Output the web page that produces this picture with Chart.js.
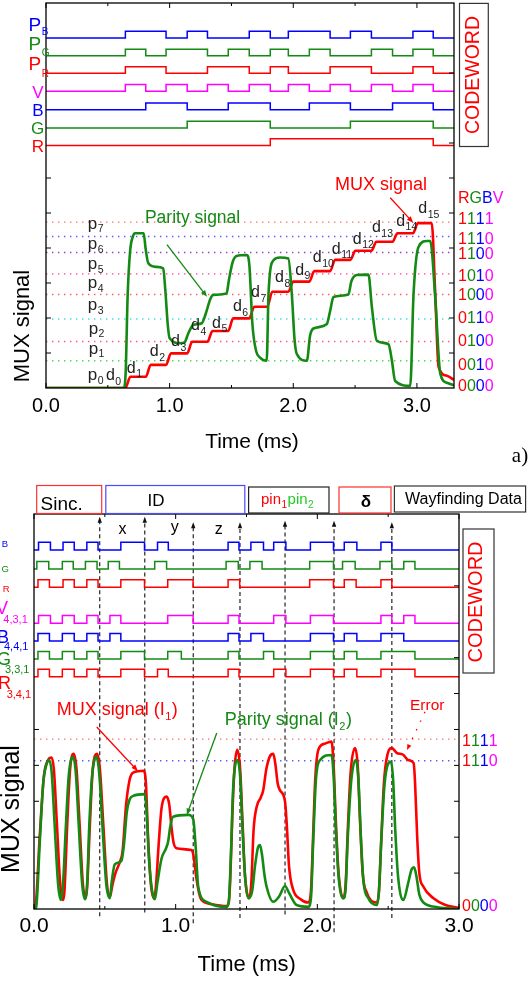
<!DOCTYPE html>
<html>
<head>
<meta charset="utf-8">
<script src="https://cdn.jsdelivr.net/npm/chart.js@4"></script>
<style>
  body { margin: 0; background: #fff; width: 531px; height: 989px; position: relative; overflow: hidden; }
  canvas { position: absolute; left: 0; }
  #c1 { top: 0; }
  #c2 { top: 470px; }
</style>
</head>
<body>
<canvas id="c1" width="531" height="470"></canvas>
<canvas id="c2" width="531" height="519"></canvas>
<script>
const SANS = '"Liberation Sans", Arial, sans-serif';

// ---------- panel a) ----------
// codeword slots d0..d15 (start times, ms)
const topSlotStart = [0, 0.642, 0.807, 0.971, 1.142, 1.306, 1.474, 1.644, 1.814, 1.960, 2.130, 2.298, 2.462, 2.632, 2.803, 2.968];
const topSlotEnd = 3.132;
const topBitsPB = [0,1,1,0,1,0,0,1,0,1,1,0,1,0,0,1];
const topBitsPG = [0,1,0,1,1,0,1,0,1,0,1,0,0,1,0,1];
const topBitsPR = [0,1,1,0,0,1,1,0,1,0,0,1,1,0,0,1];
const topBitsV  = [0,1,0,1,0,1,0,1,0,1,0,1,0,1,0,1];
const topBitsB  = [0,0,1,1,0,0,1,1,0,0,1,1,0,0,1,1];
const topBitsG  = [0,0,0,0,1,1,1,1,0,0,0,0,1,1,1,1];
const topBitsR  = [0,0,0,0,0,0,0,0,1,1,1,1,1,1,1,1];

// MUX signal (red) and parity signal (green), time in ms / level in axis units
const topMuxT = [0,0.642,0.682,0.807,0.847,0.971,1.011,1.142,1.182,1.306,1.346,1.474,1.514,1.644,1.684,1.79,1.83,1.96,2.0,2.13,2.17,2.298,2.338,2.462,2.502,2.632,2.672,2.803,2.843,2.968,3.008,3.12,3.148,3.175,3.243,3.3];
const topMuxV = [0,0,0.32,0.32,0.66,0.66,0.99,0.99,1.32,1.32,1.63,1.63,1.99,1.99,2.32,2.32,2.75,2.75,3.04,3.04,3.34,3.34,3.66,3.66,3.92,3.92,4.18,4.18,4.42,4.42,4.71,4.71,2.71,0.61,0.35,0.23];
const topParT = [0,0.63,0.645,0.66,0.68,0.705,0.72,0.79,0.805,0.827,0.89,0.948,0.965,0.985,1.0,1.083,1.12,1.15,1.19,1.26,1.29,1.33,1.353,1.46,1.48,1.51,1.542,1.623,1.645,1.67,1.7,1.731,1.785,1.8,1.84,1.893,1.96,1.988,2.01,2.028,2.11,2.136,2.163,2.27,2.298,2.325,2.446,2.47,2.514,2.608,2.636,2.676,2.77,2.797,2.824,2.946,2.973,3.013,3.081,3.108,3.148,3.189,3.243,3.3];
const topParV = [0,0,0.5,2.6,3.9,4.35,4.42,4.42,4.0,3.57,3.46,3.42,2.8,1.8,1.42,1.28,1.3,1.55,1.8,1.85,2.1,2.55,2.66,2.7,3.1,3.6,3.77,3.8,3.5,1.8,1.05,0.87,0.78,2.71,3.65,3.73,3.7,2.7,1.4,0.98,0.78,1.5,1.7,1.82,2.2,2.6,2.67,3.05,3.23,3.24,2.3,1.35,1.25,0.8,0.2,0.06,2.7,4.03,4.2,4.2,2.6,0.41,0.15,0.08];

const topRefLevels = [4.74, 4.33, 3.87, 3.26, 2.67, 1.97, 1.33, 0.78];
const topRefColors = ['#ff6a6a', '#5a5aff', '#9a3acc', '#ff3ca0', '#ff5a5a', '#3ce0e0', '#ff5a7a', '#44dd44'];
const topCodeLabels = ['1111','1110','1100','1010','1000','0110','0100','0010','0000'];
const topCodeBase = [224, 244, 259, 281, 300, 323, 346, 370, 391];

// ---------- panel b) ----------
// codeword rows as toggle times (ms), each row starts low
const botTogPB = [0.032,0.116,0.205,0.284,0.373,0.452,0.613,0.780,0.872,0.948,1.370,1.447,1.531,1.620,1.692,1.778,1.951,2.114,2.190,2.279,2.449,2.526];
const botTogPG = [0.020,0.104,0.200,0.277,0.363,0.445,0.524,0.603,0.852,0.936,1.356,1.442,1.524,1.610,1.946,2.114,2.178,2.267,2.442,2.526,2.610,2.689];
const botTogPR = [0.028,0.109,0.205,0.284,0.373,0.452,0.613,0.780,0.944,1.123,1.370,1.452,1.946,2.114,2.190,2.274,2.449,2.526];
const botTogV  = [0.032,0.116,0.200,0.284,0.373,0.452,0.536,0.613,0.944,1.123,1.370,1.447,1.692,1.778,1.951,2.114,2.449,2.526,2.610,2.689];
const botTogB  = [0.028,0.109,0.200,0.284,0.373,0.452,0.536,0.613,1.370,1.447,1.531,1.620,1.951,2.114,2.190,2.279,2.449,2.610];
const botTogG  = [0.028,0.109,0.200,0.284,0.373,0.452,0.613,0.780,0.944,1.040,1.370,1.447,1.620,1.692,1.951,2.114,2.190,2.279,2.449,2.689];
const botTogR  = [0.028,0.109,0.200,0.284,0.373,0.452,0.613,0.780,0.872,0.948,1.370,1.447,1.692,1.778,1.951,2.114,2.190,2.279,2.449,2.689];

const botMuxT = [0,0.01,0.04,0.07,0.1,0.123,0.14,0.16,0.185,0.205,0.215,0.235,0.255,0.28,0.3,0.32,0.345,0.365,0.375,0.395,0.415,0.445,0.465,0.49,0.515,0.535,0.555,0.575,0.605,0.625,0.65,0.675,0.7,0.775,0.79,0.805,0.825,0.846,0.86,0.88,0.9,0.92,0.936,0.955,0.97,0.985,1.006,1.11,1.125,1.145,1.165,1.183,1.25,1.36,1.375,1.385,1.4,1.415,1.435,1.455,1.47,1.49,1.52,1.535,1.55,1.572,1.6,1.618,1.64,1.665,1.689,1.705,1.72,1.736,1.772,1.785,1.8,1.83,1.88,1.936,1.955,1.97,1.985,2.007,2.05,2.1,2.115,2.13,2.15,2.184,2.2,2.215,2.235,2.266,2.285,2.3,2.32,2.35,2.42,2.435,2.45,2.47,2.495,2.526,2.56,2.608,2.64,2.68,2.69,2.705,2.72,2.749,2.82,2.9,3.0];
const botMuxV = [0,0.05,2.0,3.7,4.15,4.22,3.9,2.5,0.7,0.25,0.5,2.4,3.9,4.32,3.9,2.5,0.7,0.3,0.6,2.4,3.9,4.32,3.9,2.3,0.7,0.33,0.7,1.0,1.3,1.6,2.9,3.6,3.8,3.85,3.5,2.0,0.7,0.3,0.6,1.8,2.8,3.1,3.13,2.9,2.3,1.85,1.69,1.64,1.5,0.9,0.45,0.25,0.14,0.08,0.2,0.8,2.6,3.9,4.43,3.9,2.6,0.9,0.3,0.8,2.2,2.85,3.1,3.31,3.9,4.25,4.32,4.0,3.5,3.31,2.99,2.3,1.2,0.53,0.28,0.18,0.5,2.0,3.6,4.43,4.6,4.66,4.0,2.5,1.0,0.3,0.7,2.2,3.8,4.48,4.0,2.6,1.0,0.45,0.18,0.5,1.8,3.5,4.3,4.48,4.35,4.29,4.15,4.06,3.5,2.0,1.0,0.62,0.3,0.12,0.03];
const botParT = [0,0.015,0.04,0.065,0.09,0.106,0.125,0.145,0.17,0.19,0.205,0.225,0.245,0.276,0.295,0.315,0.34,0.36,0.375,0.39,0.41,0.44,0.46,0.485,0.51,0.535,0.55,0.57,0.617,0.635,0.655,0.675,0.7,0.782,0.795,0.81,0.83,0.853,0.87,0.9,0.933,0.947,0.962,0.982,1.088,1.124,1.14,1.16,1.218,1.36,1.375,1.39,1.405,1.435,1.455,1.47,1.49,1.515,1.54,1.56,1.58,1.595,1.61,1.625,1.642,1.689,1.73,1.772,1.8,1.854,1.936,1.955,1.97,1.99,2.02,2.1,2.115,2.13,2.15,2.184,2.2,2.215,2.24,2.273,2.29,2.305,2.325,2.36,2.42,2.435,2.45,2.475,2.52,2.535,2.55,2.57,2.608,2.64,2.665,2.683,2.7,2.72,2.749,2.85,3.0];
const botParV = [0,0.05,1.8,3.5,4.05,4.15,3.8,2.4,0.7,0.25,0.7,2.3,3.7,4.24,3.8,2.4,0.7,0.27,0.7,2.3,3.7,4.24,3.8,2.2,0.7,0.3,0.8,1.24,1.34,1.8,2.7,3.05,3.15,3.2,2.7,1.5,0.6,0.27,0.7,1.4,1.7,1.88,2.3,2.57,2.62,2.5,1.8,0.6,0.2,0.06,0.2,1.5,3.3,4.15,3.7,2.4,0.9,0.3,0.5,1.2,1.7,1.78,1.5,1.0,0.62,0.2,0.35,0.64,0.45,0.11,0.06,0.3,1.8,3.6,4.15,4.29,3.7,2.3,0.9,0.3,0.6,2.0,3.6,4.15,3.6,2.2,0.8,0.3,0.11,0.5,1.8,3.5,4.1,3.6,2.2,0.9,0.25,0.7,1.1,1.16,0.9,0.4,0.18,0.05,0];

const botRefLevels = [4.73, 4.13];
const botRefColors = ['#ff6a6a', '#5a5aff'];
const botMarkT = [0.464, 0.782, 1.124, 1.454, 1.772, 2.118, 2.526];
const botMarkTop = [10.92, 10.92, 10.77, 10.77, 10.81, 10.81, 10.77];
const botMarkLow = [-0.2, -0.1, -0.4, -0.25, -0.15, -0.65, -0.25];

const xTickVals = [0, 1, 2, 3];
const xTickLabels = ['0.0', '1.0', '2.0', '3.0'];
const xMinor = [0.5, 1.5, 2.5];

// ---------- helpers ----------
function stepFromBits(starts, end, bits, base, h, xmax) {
  const pts = starts.map((s, i) => ({ x: s, y: base + bits[i] * h }));
  pts.push({ x: end, y: base }, { x: xmax, y: base });
  return pts;
}
function stepFromToggles(tog, base, h, xmax) {
  const pts = [{ x: 0, y: base }];
  tog.forEach((t, i) => pts.push({ x: t, y: base + (i % 2 === 0 ? h : 0) }));
  pts.push({ x: xmax, y: pts[pts.length - 1].y });
  return pts;
}
const zip = (t, v) => t.map((x, i) => ({ x, y: v[i] }));

function trace(data, color, width, extra) {
  return Object.assign({ data, borderColor: color, borderWidth: width, pointRadius: 0, fill: false }, extra || {});
}
function refLine(level, color, xmax) {
  return trace([{ x: 0, y: level }, { x: xmax, y: level }], color, 1.4, { borderDash: [1.4, 4.6], order: 20 });
}

function txt(ctx, s, x, y, size, color, opts) {
  opts = opts || {};
  ctx.font = (opts.bold ? 'bold ' : '') + size + 'px ' + (opts.family || SANS);
  ctx.fillStyle = color;
  ctx.textAlign = opts.align || 'left';
  ctx.textBaseline = 'alphabetic';
  ctx.fillText(s, x, y);
  return ctx.measureText(s).width;
}
// main text followed by a subscript, returns x after the subscript
function sub(ctx, main, x, y, size, color, s, ssize, scolor, drop) {
  const w = txt(ctx, main, x, y, size, color);
  const w2 = txt(ctx, s, x + w + 0.5, y + drop, ssize, scolor);
  return x + w + 0.5 + w2;
}
function codeLabel(ctx, s, x, y, size) {
  const cols = ['#ff0000', '#138a13', '#0000ff', '#ff00ff'];
  let cx = x;
  for (let i = 0; i < s.length; i++) cx += txt(ctx, s[i], cx, y, size, cols[i]);
}
function arrow(ctx, x1, y1, x2, y2, color, width, head, dash) {
  const a = Math.atan2(y2 - y1, x2 - x1);
  ctx.save();
  ctx.strokeStyle = color; ctx.fillStyle = color; ctx.lineWidth = width;
  if (dash) ctx.setLineDash(dash);
  ctx.beginPath();
  ctx.moveTo(x1, y1);
  ctx.lineTo(x2 - Math.cos(a) * head * 0.7, y2 - Math.sin(a) * head * 0.7);
  ctx.stroke();
  ctx.setLineDash([]);
  ctx.beginPath();
  ctx.moveTo(x2, y2);
  ctx.lineTo(x2 - head * Math.cos(a - 0.38), y2 - head * Math.sin(a - 0.38));
  ctx.lineTo(x2 - head * Math.cos(a + 0.38), y2 - head * Math.sin(a + 0.38));
  ctx.closePath(); ctx.fill();
  ctx.restore();
}
function frameAndTicks(chart, yLeft, yRight) {
  const { ctx, chartArea: a, scales: { x, y } } = chart;
  ctx.save();
  ctx.strokeStyle = '#000';
  ctx.lineWidth = 1.3;
  ctx.strokeRect(a.left, a.top, a.right - a.left, a.bottom - a.top);
  ctx.lineWidth = 1;
  ctx.beginPath();
  xTickVals.forEach(v => {
    const p = x.getPixelForValue(v);
    ctx.moveTo(p, a.bottom); ctx.lineTo(p, a.bottom - 5);
    ctx.moveTo(p, a.top); ctx.lineTo(p, a.top + 5);
  });
  xMinor.forEach(v => {
    const p = x.getPixelForValue(v);
    ctx.moveTo(p, a.bottom); ctx.lineTo(p, a.bottom - 3);
    ctx.moveTo(p, a.top); ctx.lineTo(p, a.top + 3);
  });
  yLeft.forEach(v => { const p = y.getPixelForValue(v); ctx.moveTo(a.left, p); ctx.lineTo(a.left + 5, p); });
  yRight.forEach(v => { const p = y.getPixelForValue(v); ctx.moveTo(a.right, p); ctx.lineTo(a.right - 5, p); });
  ctx.stroke();
  ctx.restore();
}
function vText(ctx, s, cx, cy, size, color) {
  ctx.save();
  ctx.translate(cx, cy);
  ctx.rotate(-Math.PI / 2);
  ctx.font = size + 'px ' + SANS;
  ctx.fillStyle = color;
  ctx.textAlign = 'center';
  ctx.textBaseline = 'middle';
  ctx.fillText(s, 0, 0);
  ctx.restore();
}
function codewordBox(ctx, l, t, r, b, size, cx, cy) {
  ctx.save();
  ctx.strokeStyle = '#333'; ctx.lineWidth = 1.2;
  ctx.strokeRect(l, t, r - l, b - t);
  ctx.restore();
  vText(ctx, 'CODEWORD', cx, cy, size, '#ff0000');
}

// ---------- panel a) chart ----------
const C_R = '#ff0000', C_G = '#138a13', C_B = '#0000ff', C_M = '#ff00ff';
const topXMax = 3.3;
const topDatasets = [
  trace(zip(topMuxT, topMuxV), C_R, 2.6, { cubicInterpolationMode: 'monotone', order: 2 }),
  trace(zip(topParT, topParV), C_G, 2.6, { cubicInterpolationMode: 'monotone', order: 1 }),
  trace(stepFromBits(topSlotStart, topSlotEnd, topBitsPB, 10.0, 0.19, topXMax), C_B, 1.5, { stepped: true }),
  trace(stepFromBits(topSlotStart, topSlotEnd, topBitsPG, 9.49, 0.19, topXMax), C_G, 1.5, { stepped: true }),
  trace(stepFromBits(topSlotStart, topSlotEnd, topBitsPR, 8.99, 0.19, topXMax), C_R, 1.5, { stepped: true }),
  trace(stepFromBits(topSlotStart, topSlotEnd, topBitsV, 8.48, 0.19, topXMax), C_M, 1.5, { stepped: true }),
  trace(stepFromBits(topSlotStart, topSlotEnd, topBitsB, 7.95, 0.19, topXMax), C_B, 1.5, { stepped: true }),
  trace(stepFromBits(topSlotStart, topSlotEnd, topBitsG, 7.43, 0.19, topXMax), C_G, 1.5, { stepped: true }),
  trace(stepFromBits(topSlotStart, topSlotEnd, topBitsR, 6.93, 0.19, topXMax), C_R, 1.5, { stepped: true })
].concat(topRefLevels.map((l, i) => refLine(l, topRefColors[i], topXMax)));

const topDLabels = [[0.485,0.217],[0.654,0.429],[0.84,0.903],[1.011,1.189],[1.173,1.646],[1.343,1.723],[1.512,2.189],[1.658,2.6],[1.853,3.017],[2.015,3.237],[2.158,3.589],[2.312,3.837],[2.482,4.123],[2.636,4.446],[2.832,4.637],[3.011,5.0]];
const topPLabels = [[0.338,0.217],[0.345,0.98],[0.345,1.551],[0.338,2.217],[0.338,2.857],[0.338,3.4],[0.338,3.971],[0.338,4.551]];

const decorTop = {
  id: 'decorTop',
  afterDraw(chart) {
    const { ctx, scales: { x, y } } = chart;
    const X = v => x.getPixelForValue(v), Y = v => y.getPixelForValue(v);
    frameAndTicks(chart, [1, 2, 3, 4, 5, 6], [1, 2, 3, 4, 5, 6, 7, 9]);
    // row labels
    sub(ctx, 'P', 28.5, 30.5, 19, C_B, 'B', 10, C_B, 4.5);
    sub(ctx, 'P', 28.5, 50.2, 19, C_G, 'G', 10, C_G, 5.5);
    sub(ctx, 'P', 28.5, 69.5, 19, C_R, 'R', 10, C_R, 7);
    txt(ctx, 'V', 38, 98, 17, C_M, { align: 'center' });
    txt(ctx, 'B', 38, 115.5, 17, C_B, { align: 'center' });
    txt(ctx, 'G', 37.5, 134, 17, C_G, { align: 'center' });
    txt(ctx, 'R', 38, 151.5, 17, C_R, { align: 'center' });
    codewordBox(ctx, 459.5, 3.4, 488.3, 146.5, 19.5, 473.5, 75);
    // d / p labels
    topDLabels.forEach((p, i) => sub(ctx, 'd', X(p[0]), Y(p[1]), 16, '#222', String(i), 10.5, '#222', 4.5));
    topPLabels.forEach((p, i) => sub(ctx, 'p', X(p[0]), Y(p[1]), 17, '#222', String(i), 10.5, '#222', 3.5));
    // annotations
    txt(ctx, 'MUX signal', X(2.338), Y(5.666), 18, C_R);
    arrow(ctx, X(2.784), Y(5.437), X(2.97), Y(4.723), C_R, 1.3, 7);
    txt(ctx, 'Parity signal', X(0.8), Y(4.72), 17.5, C_G);
    arrow(ctx, X(0.978), Y(4.094), X(1.302), Y(2.609), C_G, 1.3, 7);
    // RGBV legend on the right
    let cx = 458;
    ['R', 'G', 'B', 'V'].forEach((c, i) => { cx += txt(ctx, c, cx, 203, 16, [C_R, C_G, C_B, C_M][i]); });
    topCodeLabels.forEach((s, i) => codeLabel(ctx, s, 458, topCodeBase[i], 16));
    // y title, x title, panel letter
    vText(ctx, 'MUX signal', 22.5, 326, 22, '#000');
    txt(ctx, 'Time (ms)', 252, 448, 21, '#000', { align: 'center' });
    txt(ctx, 'a)', 520, 462, 21, '#000', { align: 'center', family: '"Liberation Serif", "Times New Roman", serif' });
  }
};

function xScale(max, size, pad, h) {
  return {
    type: 'linear', min: 0, max: max,
    grid: { display: false, drawTicks: false },
    border: { display: false },
    afterFit: s => { s.height = h; },
    afterBuildTicks: s => { s.ticks = xTickVals.map(v => ({ value: v })); },
    ticks: { autoSkip: false, maxRotation: 0, padding: pad, color: '#000', font: { family: SANS, size: size }, callback: (v, i) => xTickLabels[i] }
  };
}
function baseOptions(pad, xs) {
  return {
    responsive: false, animation: false, events: [],
    layout: { padding: pad },
    plugins: { legend: { display: false }, tooltip: { enabled: false } },
    elements: { point: { radius: 0 }, line: { tension: 0 } },
    scales: { x: xs, y: { type: 'linear', min: 0, max: 11, display: false } }
  };
}

new Chart(document.getElementById('c1'), {
  type: 'line',
  data: { datasets: topDatasets },
  options: baseOptions({ left: 46, top: 3, right: 77, bottom: 0 }, xScale(topXMax, 20, 6, 82)),
  plugins: [decorTop]
});

// ---------- panel b) chart ----------
const botXMax = 3.0;
const botDatasets = [
  trace(zip(botMuxT, botMuxV), C_R, 2.6, { cubicInterpolationMode: 'monotone', order: 2 }),
  trace(zip(botParT, botParV), C_G, 2.6, { cubicInterpolationMode: 'monotone', order: 1 }),
  trace(stepFromToggles(botTogPB, 10.0, 0.21, botXMax), C_B, 1.5, { stepped: true }),
  trace(stepFromToggles(botTogPG, 9.47, 0.21, botXMax), C_G, 1.5, { stepped: true }),
  trace(stepFromToggles(botTogPR, 8.96, 0.21, botXMax), C_R, 1.5, { stepped: true }),
  trace(stepFromToggles(botTogV, 7.96, 0.21, botXMax), C_M, 1.5, { stepped: true }),
  trace(stepFromToggles(botTogB, 7.46, 0.21, botXMax), C_B, 1.5, { stepped: true }),
  trace(stepFromToggles(botTogG, 6.96, 0.21, botXMax), C_G, 1.5, { stepped: true }),
  trace(stepFromToggles(botTogR, 6.47, 0.21, botXMax), C_R, 1.5, { stepped: true })
].concat(botRefLevels.map((l, i) => refLine(l, botRefColors[i], botXMax)))
 .concat(botMarkT.map((t, i) => trace([{ x: t, y: botMarkLow[i] }, { x: t, y: botMarkTop[i] - 0.12 }], '#111', 1.1, { borderDash: [4, 3], clip: false, order: 15 })));

const decorBot = {
  id: 'decorBot',
  afterDraw(chart) {
    const { ctx, scales: { x, y } } = chart;
    const X = v => x.getPixelForValue(v), Y = v => y.getPixelForValue(v);
    const o = -470; // page y -> canvas y
    frameAndTicks(chart, [1, 2, 3, 4, 5], [1, 2, 3, 4, 5, 6, 7, 9]);
    // arrow heads on marker lines
    botMarkT.forEach((t, i) => {
      const px = X(t), py = Y(botMarkTop[i]);
      ctx.fillStyle = '#111';
      ctx.beginPath(); ctx.moveTo(px, py); ctx.lineTo(px - 2.2, py + 6); ctx.lineTo(px + 2.2, py + 6); ctx.closePath(); ctx.fill();
    });
    // header boxes
    const box = (l, t, r, b, c) => { ctx.save(); ctx.strokeStyle = c; ctx.lineWidth = 1.2; ctx.strokeRect(l, t + o, r - l, b - t); ctx.restore(); };
    box(36.7, 485.5, 101.7, 513.5, '#ff3030');
    box(105.8, 485.5, 244.8, 513.5, '#4a4aff');
    box(248.6, 487, 329, 513, '#222');
    box(339, 487, 391, 513, '#ff3030');
    box(394.4, 486, 525.6, 512, '#333');
    txt(ctx, 'Sinc.', 40.5, 510 + o, 19, '#000');
    txt(ctx, 'ID', 156, 505.6 + o, 17, '#000', { align: 'center' });
    const px = sub(ctx, 'pin', 261, 504 + o, 15, '#ff0000', '1', 10, '#ff0000', 3.5);
    sub(ctx, 'pin', px + 0.5, 504 + o, 15, '#22cc22', '2', 10, '#22cc22', 3.5);
    txt(ctx, 'δ', 366, 507 + o, 17, '#000', { align: 'center', bold: true });
    txt(ctx, 'Wayfinding Data', 463.5, 503.5 + o, 16, '#000', { align: 'center' });
    txt(ctx, 'x', X(0.596), Y(10.45), 16, '#000');
    txt(ctx, 'y', X(0.966), Y(10.5), 16, '#000');
    txt(ctx, 'z', X(1.276), Y(10.45), 16, '#000');
    // cut-off row labels at the left edge
    txt(ctx, 'P', -12, 537 + o, 18, C_B); txt(ctx, 'B', 1.7, 546.5 + o, 9.5, C_B);
    txt(ctx, 'P', -12, 561 + o, 18, C_G); txt(ctx, 'G', 1.5, 571.5 + o, 9.5, C_G);
    txt(ctx, 'P', -12, 580 + o, 18, C_R); txt(ctx, 'R', 2.7, 592 + o, 9.5, C_R);
    txt(ctx, 'V', -4, 614 + o, 18, C_M); txt(ctx, '4,3,1', 3.3, 623 + o, 11, C_M);
    txt(ctx, 'B', -3, 643.3 + o, 18, C_B); txt(ctx, '4,4,1', 4, 650 + o, 11, C_B);
    txt(ctx, 'G', -3, 665 + o, 18, C_G); txt(ctx, '3,3,1', 5, 672.7 + o, 11, C_G);
    txt(ctx, 'R', -2, 689 + o, 18, C_R); txt(ctx, '3,4,1', 6.7, 698.3 + o, 11, C_R);
    codewordBox(ctx, 463, 529 + o, 494, 673 + o, 20, 476, 602 + o);
    // annotations
    let ex = X(0.16) + txt(ctx, 'MUX signal (I', X(0.16), Y(5.40), 18, C_R);
    ex += txt(ctx, '1', ex + 0.5, Y(5.40) + 5, 11, C_R) + 0.5;
    txt(ctx, ')', ex + 0.5, Y(5.40), 18, C_R);
    arrow(ctx, X(0.443), Y(5.07), X(0.733), Y(3.84), C_R, 1.3, 7);
    ex = X(1.347) + txt(ctx, 'Parity signal (I', X(1.347), Y(5.125), 18, C_G);
    ex += txt(ctx, '2', ex + 0.5, Y(5.125) + 5, 11, C_G) + 0.5;
    txt(ctx, ')', ex + 0.5, Y(5.125), 18, C_G);
    arrow(ctx, X(1.29), Y(4.9), X(1.079), Y(2.62), C_G, 1.3, 7);
    txt(ctx, 'Error', X(2.654), Y(5.54), 15.5, C_R);
    arrow(ctx, X(2.76), Y(5.49), X(2.633), Y(4.43), C_R, 1.3, 6, [1.5, 8]);
    codeLabel(ctx, '1111', 462, 746 + o, 16);
    codeLabel(ctx, '1110', 462, 766 + o, 16);
    codeLabel(ctx, '0000', 462, 911 + o, 16);
    vText(ctx, 'MUX signal', 12.5, 809 + o, 25, '#000');
    txt(ctx, 'Time (ms)', 246.7, 970.5 + o, 22, '#000', { align: 'center' });
  }
};

new Chart(document.getElementById('c2'), {
  type: 'line',
  data: { datasets: botDatasets },
  options: baseOptions({ left: 34, top: 44, right: 72, bottom: 0 }, xScale(botXMax, 21, 5, 80)),
  plugins: [decorBot]
});
</script>
</body>
</html>
